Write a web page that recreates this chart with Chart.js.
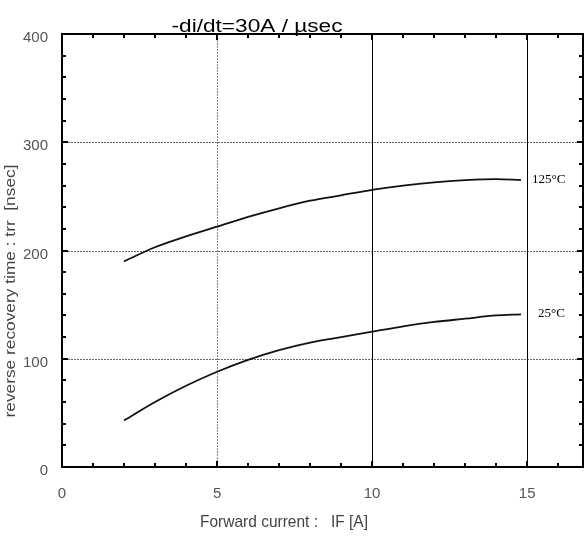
<!DOCTYPE html>
<html>
<head>
<meta charset="utf-8">
<script src="https://cdn.jsdelivr.net/npm/chart.js@4"></script>
<style>
  html, body { margin: 0; padding: 0; background: #fff; }
  #wrap { width: 587px; height: 536px; }
</style>
</head>
<body>
<div id="wrap"><canvas id="trrChart" width="587" height="536"></canvas></div>
<script>
// forward current IF [A]
const currentA = [2, 3, 4, 5, 6, 7, 8, 9, 10, 11, 12, 13, 14, 14.8];
// trr [nsec]
const trr125 = [190, 203, 213, 222, 231, 239, 246, 251, 256, 260, 263, 265, 266, 265];
const trr25 = [43, 60, 75, 88, 99, 108, 115, 120, 125, 130, 134, 137, 140, 141];
const seriesLabels = ['125°C', '25°C'];
const xTicks = [0, 5, 10, 15];
const yTicks = [0, 100, 200, 300, 400];

const X_MAX = 16.8;
const Y_MAX = 400;

// draw text squeezed/stretched to a given width (scanned datasheet look)
function fitText(ctx, text, cx, cy, font, width, angle) {
    ctx.save();
    ctx.font = font;
    const w = ctx.measureText(text).width;
    ctx.translate(cx, cy);
    if (angle) ctx.rotate(angle);
    ctx.scale(width / w, 1);
    ctx.textAlign = 'center';
    ctx.fillText(text, 0, 0);
    ctx.restore();
}

// grid, inward ticks, titles and curve labels
const frame = {
    id: 'frame',
    beforeDatasetsDraw(chart) {
        const { ctx, chartArea: a, scales: { x, y } } = chart;
        ctx.save();
        // horizontal dotted grid
        ctx.strokeStyle = '#666';
        ctx.lineWidth = 1;
        ctx.setLineDash([2, 1]);
        [100, 200, 300].forEach(v => {
            const py = Math.round(y.getPixelForValue(v)) + 0.5;
            ctx.beginPath(); ctx.moveTo(a.left, py); ctx.lineTo(a.right, py); ctx.stroke();
        });
        // x=5 dotted, 10 and 15 solid
        const px5 = Math.round(x.getPixelForValue(5)) + 0.5;
        ctx.strokeStyle = '#888';
        ctx.beginPath(); ctx.moveTo(px5, a.top); ctx.lineTo(px5, a.bottom); ctx.stroke();
        ctx.setLineDash([]);
        ctx.strokeStyle = '#000';
        [10, 15].forEach(v => {
            const px = Math.round(x.getPixelForValue(v)) + 0.5;
            ctx.beginPath(); ctx.moveTo(px, a.top); ctx.lineTo(px, a.bottom); ctx.stroke();
        });
        // inward ticks
        ctx.lineWidth = 2;
        for (let v = 1; v < X_MAX; v++) {
            const len = v % 5 === 0 ? 6 : 4;
            const px = Math.round(x.getPixelForValue(v));
            ctx.beginPath();
            ctx.moveTo(px, a.bottom); ctx.lineTo(px, a.bottom - len);
            ctx.moveTo(px, a.top); ctx.lineTo(px, a.top + len);
            ctx.stroke();
        }
        for (let v = 20; v < Y_MAX; v += 20) {
            const len = v % 100 === 0 ? 6 : 4;
            const py = Math.round(y.getPixelForValue(v));
            ctx.beginPath();
            ctx.moveTo(a.left, py); ctx.lineTo(a.left + len, py);
            ctx.moveTo(a.right, py); ctx.lineTo(a.right - len, py);
            ctx.stroke();
        }
        // frame
        ctx.lineWidth = 2;
        ctx.strokeRect(a.left, a.top, a.right - a.left, a.bottom - a.top);
        ctx.restore();
    },
    afterDraw(chart) {
        const { ctx, scales: { x, y } } = chart;
        const sans = '"Liberation Sans", Arial, sans-serif';
        ctx.save();
        ctx.textBaseline = 'alphabetic';
        ctx.fillStyle = '#000';
        fitText(ctx, '-di/dt=30A / µsec', 257, 32, '18px ' + sans, 171);

        ctx.fillStyle = '#444';
        ctx.textBaseline = 'middle';
        fitText(ctx, 'Forward current :   IF [A]', 284, 522, '17px ' + sans, 168);
        fitText(ctx, 'reverse recovery time : trr  [nsec]', 11, 291, '15px ' + sans, 253, -Math.PI / 2);
        ctx.restore();

        // curve labels
        ctx.save();
        ctx.fillStyle = '#000';
        ctx.font = '13px "Liberation Serif", "Times New Roman", serif';
        ctx.textAlign = 'left';
        ctx.textBaseline = 'middle';
        const last = currentA.length - 1;
        const lx = x.getPixelForValue(currentA[last]) + 11;
        ctx.fillText(seriesLabels[0], lx, y.getPixelForValue(trr125[last]) - 1);
        ctx.fillText(seriesLabels[1], lx + 6, y.getPixelForValue(trr25[last]) - 1);
        ctx.restore();
    }
};

const tickFont = { family: '"Liberation Sans", Arial, sans-serif', size: 15 };

new Chart(document.getElementById('trrChart'), {
    type: 'line',
    data: {
        datasets: [
            { label: seriesLabels[0], data: currentA.map((v, i) => ({ x: v, y: trr125[i] })) },
            { label: seriesLabels[1], data: currentA.map((v, i) => ({ x: v, y: trr25[i] })) }
        ].map(d => Object.assign(d, {
            borderColor: '#111',
            borderWidth: 1.8,
            pointRadius: 0,
            fill: false,
            cubicInterpolationMode: 'monotone'
        }))
    },
    options: {
        responsive: false,
        animation: false,
        layout: { padding: { top: 34, right: 4, left: 0, bottom: 0 } },
        plugins: {
            legend: { display: false },
            title: { display: false },
            tooltip: { enabled: false }
        },
        scales: {
            x: {
                type: 'linear',
                min: 0,
                max: X_MAX,
                afterFit: s => { s.height = 69; },
                afterBuildTicks: s => { s.ticks = xTicks.map(v => ({ value: v })); },
                grid: { display: false },
                border: { display: false },
                ticks: { color: '#555', font: tickFont, padding: 10, maxRotation: 0 }
            },
            y: {
                min: 0,
                max: Y_MAX,
                afterFit: s => { s.width = 62; },
                afterBuildTicks: s => { s.ticks = yTicks.map(v => ({ value: v })); },
                grid: { display: false },
                border: { display: false },
                ticks: { color: '#555', font: tickFont, padding: 6, labelOffset: 4 }
            }
        }
    },
    plugins: [frame]
});
</script>
</body>
</html>
